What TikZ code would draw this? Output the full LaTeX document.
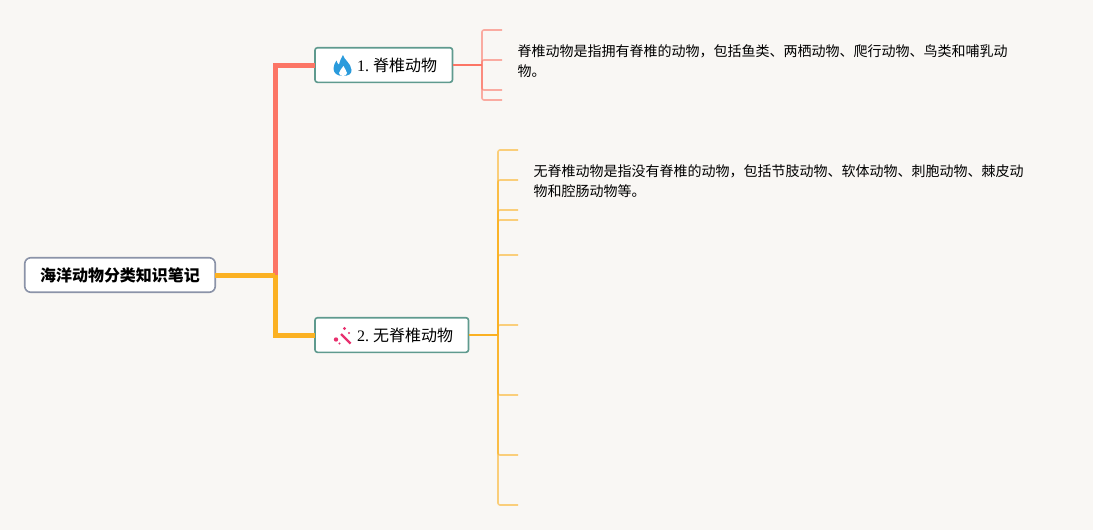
\documentclass[tikz,border=0pt]{standalone}
\usepackage{fontspec}
\setmainfont{Liberation Serif}
\newfontfamily\cjk{Noto Sans CJK SC}
\definecolor{bgc}{HTML}{F9F7F4}
\definecolor{redl}{HTML}{FC7565}
\definecolor{orgl}{HTML}{FBB122}
\definecolor{rootb}{HTML}{8B93A8}
\definecolor{topb}{HTML}{5F9A8E}
\definecolor{flame}{HTML}{2A9BDC}
\definecolor{wand}{HTML}{E8306E}
\tikzset{
 x=1pt,y=-1pt,
 rootbox/.style={draw=rootb,line width=1.6pt,outer sep=0pt,fill=white,rounded corners=6pt,minimum width=190.5pt,minimum height=34.5pt,inner sep=0pt,font=\fontsize{16}{18}\selectfont\cjk\bfseries},
 topicbox/.style={draw=topb,line width=1.6pt,outer sep=0pt,fill=white,rounded corners=2.5pt,minimum height=34.6pt,inner sep=0pt,anchor=west,align=left,font=\fontsize{16}{18}\selectfont},
 note/.style={anchor=west,inner sep=0pt,font=\fontsize{14}{16}\selectfont\cjk},
 mainlink/.style={line width=5pt,miter limit=10},
 stub/.style={line width=1.6pt,opacity=.58,rounded corners=2pt},
 stem/.style={line width=1.7pt},
}
\begin{document}
\begin{tikzpicture}
\useasboundingbox[fill=bgc] (0,0) rectangle (1093,530);
\coordinate (j) at (275,275);
\node[rootbox] (root) at (120,275) {海洋动物分类知识笔记};
\node[topicbox,minimum width=137.5pt,text width=137.5pt] (t1) at (315,65) {\raisebox{-1pt}{\hspace*{42pt}1.\hspace{4pt}{\cjk 脊椎动物}}};
\node[topicbox,minimum width=153.5pt,text width=153.5pt] (t2) at (315,335) {\raisebox{-1pt}{\hspace*{42pt}2.\hspace{4pt}{\cjk 无脊椎动物}}};
\draw[mainlink,redl] (j) -- (275,65) -- (t1.west);
\draw[mainlink,orgl] (j) -- (275,335) -- (t2.west);
\draw[mainlink,orgl] (root.east) -- (j);
% flame
\fill[flame] (343,55) .. controls (344,60) and (351,63) .. (351.5,70) .. controls (352,74) and (348,76) .. (343,76) .. controls (337,76) and (333.5,73) .. (333.5,68.5) .. controls (333.5,65) and (335,63) .. (336.5,60.5) .. controls (337,63) and (338,64) .. (339,64.5) .. controls (340,61) and (341,58) .. (343,55) -- cycle;
\fill[white] (343.5,66) .. controls (344,69) and (347,70) .. (347,73) .. controls (347,75) and (345,76) .. (343,76) .. controls (341,76) and (339,75) .. (339,73) .. controls (339,70.5) and (342,69) .. (343.5,66) -- cycle;
% wand
\draw[wand,line width=2.2pt] (341,334) -- (350.5,343.5);
\fill[wand] (336,339.5) circle (2.2pt) (344.5,328.5) circle (1.7pt) (349,333) circle (1.1pt) (339.5,343.5) circle (1.1pt);
% branch 1
\coordinate (b1) at (482,65);
\draw[stem,redl] (t1.east) -- (b1);
\foreach \y in {30,60,90,100}{
  \coordinate (e) at (502,\y);
  \draw[stub,redl] (b1) -- (482,\y) -- (e);
}
% branch 2
\coordinate (b2) at (498,335);
\draw[stem,orgl] (t2.east) -- (b2);
\foreach \y in {150,180,210,220,255,325,395,455,505}{
  \coordinate (e) at (518,\y);
  \draw[stub,orgl] (b2) -- (498,\y) -- (e);
}
\node[note] (n1a) at (517.5,51) {脊椎动物是指拥有脊椎的动物，包括鱼类、两栖动物、爬行动物、鸟类和哺乳动};
\node[note] (n1b) at (517.5,71) {物。};
\node[note] (n2a) at (533.5,171) {无脊椎动物是指没有脊椎的动物，包括节肢动物、软体动物、刺胞动物、棘皮动};
\node[note] (n2b) at (533.5,191) {物和腔肠动物等。};
\end{tikzpicture}
\end{document}
